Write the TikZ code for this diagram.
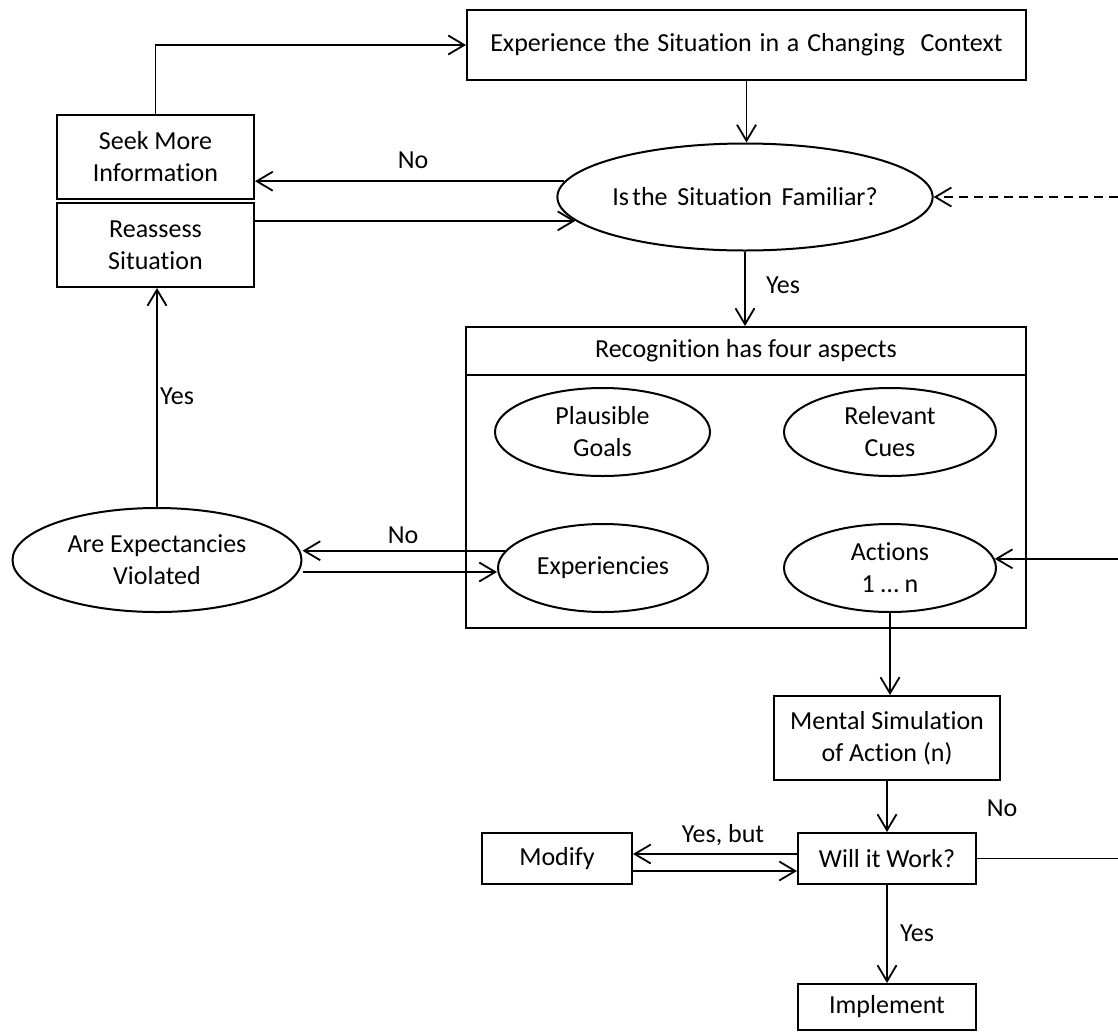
\documentclass[tikz,border=0pt]{standalone}
\usepackage{fontspec}
\setmainfont{Carlito}[RawFeature={-liga;-clig;-calt;-dlig}]
\usetikzlibrary{arrows.meta,shapes.geometric}
\begin{document}
\begin{tikzpicture}[x=1pt,y=-1pt,
  font=\fontsize{26}{32}\selectfont,
  line width=2pt,
  box/.style={draw, rectangle, align=center, inner sep=0pt},
  oval/.style={draw, ellipse, align=center, inner sep=0pt},
  arr/.style={-{Straight Barb[length=16pt,width=19pt,line width=1.8pt]}, line width=1.8pt},
  lab/.style={inner sep=0pt}]
\useasboundingbox (0,0) rectangle (1118,1034);

% right-hand return lines leave the frame here
\coordinate (ra) at (1118,0);

% boxes and decisions
\node[box, minimum width=559pt, minimum height=70pt] (top) at (746.5,45)
  {\spaceskip=0.3em plus 0.1em Experience the Situation in a Changing\hspace{0.3em} Context};
\node[box, minimum width=197pt, minimum height=84pt] (seek) at (155.5,157)
  {Seek More\\Information};
\node[box, minimum width=197pt, minimum height=84pt] (reassess) at (155.5,245)
  {Reassess\\Situation};
\node[oval, minimum width=316pt, minimum height=107pt] (fam) at (745,197)
  {Is\hspace{-0.1em} the\hspace{0.15em} Situation\hspace{0.15em} Familiar?};

% recognition frame with its four aspects
\node[box, minimum width=560pt, minimum height=301pt] (rec) at (746,477.5) {};
\draw (rec.west |- 0,375) -- (rec.east |- 0,375);
\node[lab] (rech) at (746,351) {Recognition has four aspects};
\node[oval, minimum width=215pt, minimum height=88pt] (goals) at (602.5,432) {Plausible\\Goals};
\node[oval, minimum width=212pt, minimum height=88pt] (cues) at (890,432) {Relevant\\Cues};
\node[oval, minimum width=210pt, minimum height=88pt] (exp) at (603,568) {Experiencies};
\node[oval, minimum width=212pt, minimum height=88pt] (act) at (890,568) {Actions\\1 … n};

\node[oval, minimum width=289pt, minimum height=104pt] (are) at (157,560) {Are Expectancies\\Violated};

\node[box, minimum width=226pt, minimum height=84pt] (mental) at (887,738) {Mental Simulation\\of Action (n)};
\node[box, minimum width=150pt, minimum height=51pt] (modify) at (557,858.5) {Modify};
\node[box, minimum width=178pt, minimum height=51pt] (will) at (887,858.5) {Will it Work?};
\node[box, minimum width=178pt, minimum height=46pt] (impl) at (887,1007) {Implement};

% connectors
\draw[arr] (seek.north) |- (top.west);
\draw[arr] (top.south) -- (top.south |- fam.north);
\draw[arr] (fam.175) -- (fam.175 -| seek.east);
\draw[arr] (fam.188.7 -| reassess.east) -- (fam.188.7);
\draw[arr] (fam.south) -- (fam.south |- rec.north);
\draw[arr, dashed, dash pattern=on 9pt off 6pt] (fam.east -| ra) -- (fam.east);

\draw[arr] (exp.170) -- (exp.170 -| are.east);
\draw[arr] ([yshift=-12pt]are.east) -- ([yshift=-12pt]are.east -| exp.west);
\draw[arr] (are.north) -- (are.north |- reassess.south);

\draw[arr] (act.south) -- (act.south |- mental.north);
\draw[arr] (act.5 -| ra) -- (act.5);
\draw[arr] (mental.south) -- (will.north);
\draw[line width=1.8pt] (will.east) -- (will.east -| ra);
\draw[arr] ([yshift=4.5pt]will.west) -- ([yshift=4.5pt]modify.east);
\draw[arr] ([yshift=-12.5pt]modify.east) -- ([yshift=-12.5pt]will.west);
\draw[arr] (will.south) -- (impl.north);

% branch labels
\node[lab] (lno1) at (413,160) {No};
\node[lab] (lyes1) at (783,285) {Yes};
\node[lab] (lno2) at (403,535) {No};
\node[lab] (lyes2) at (177,396) {Yes};
\node[lab] (lyesbut) at (723,835) {Yes, but};
\node[lab] (lno3) at (1002,808) {No};
\node[lab] (lyes3) at (917,933) {Yes};
\end{tikzpicture}
\end{document}
